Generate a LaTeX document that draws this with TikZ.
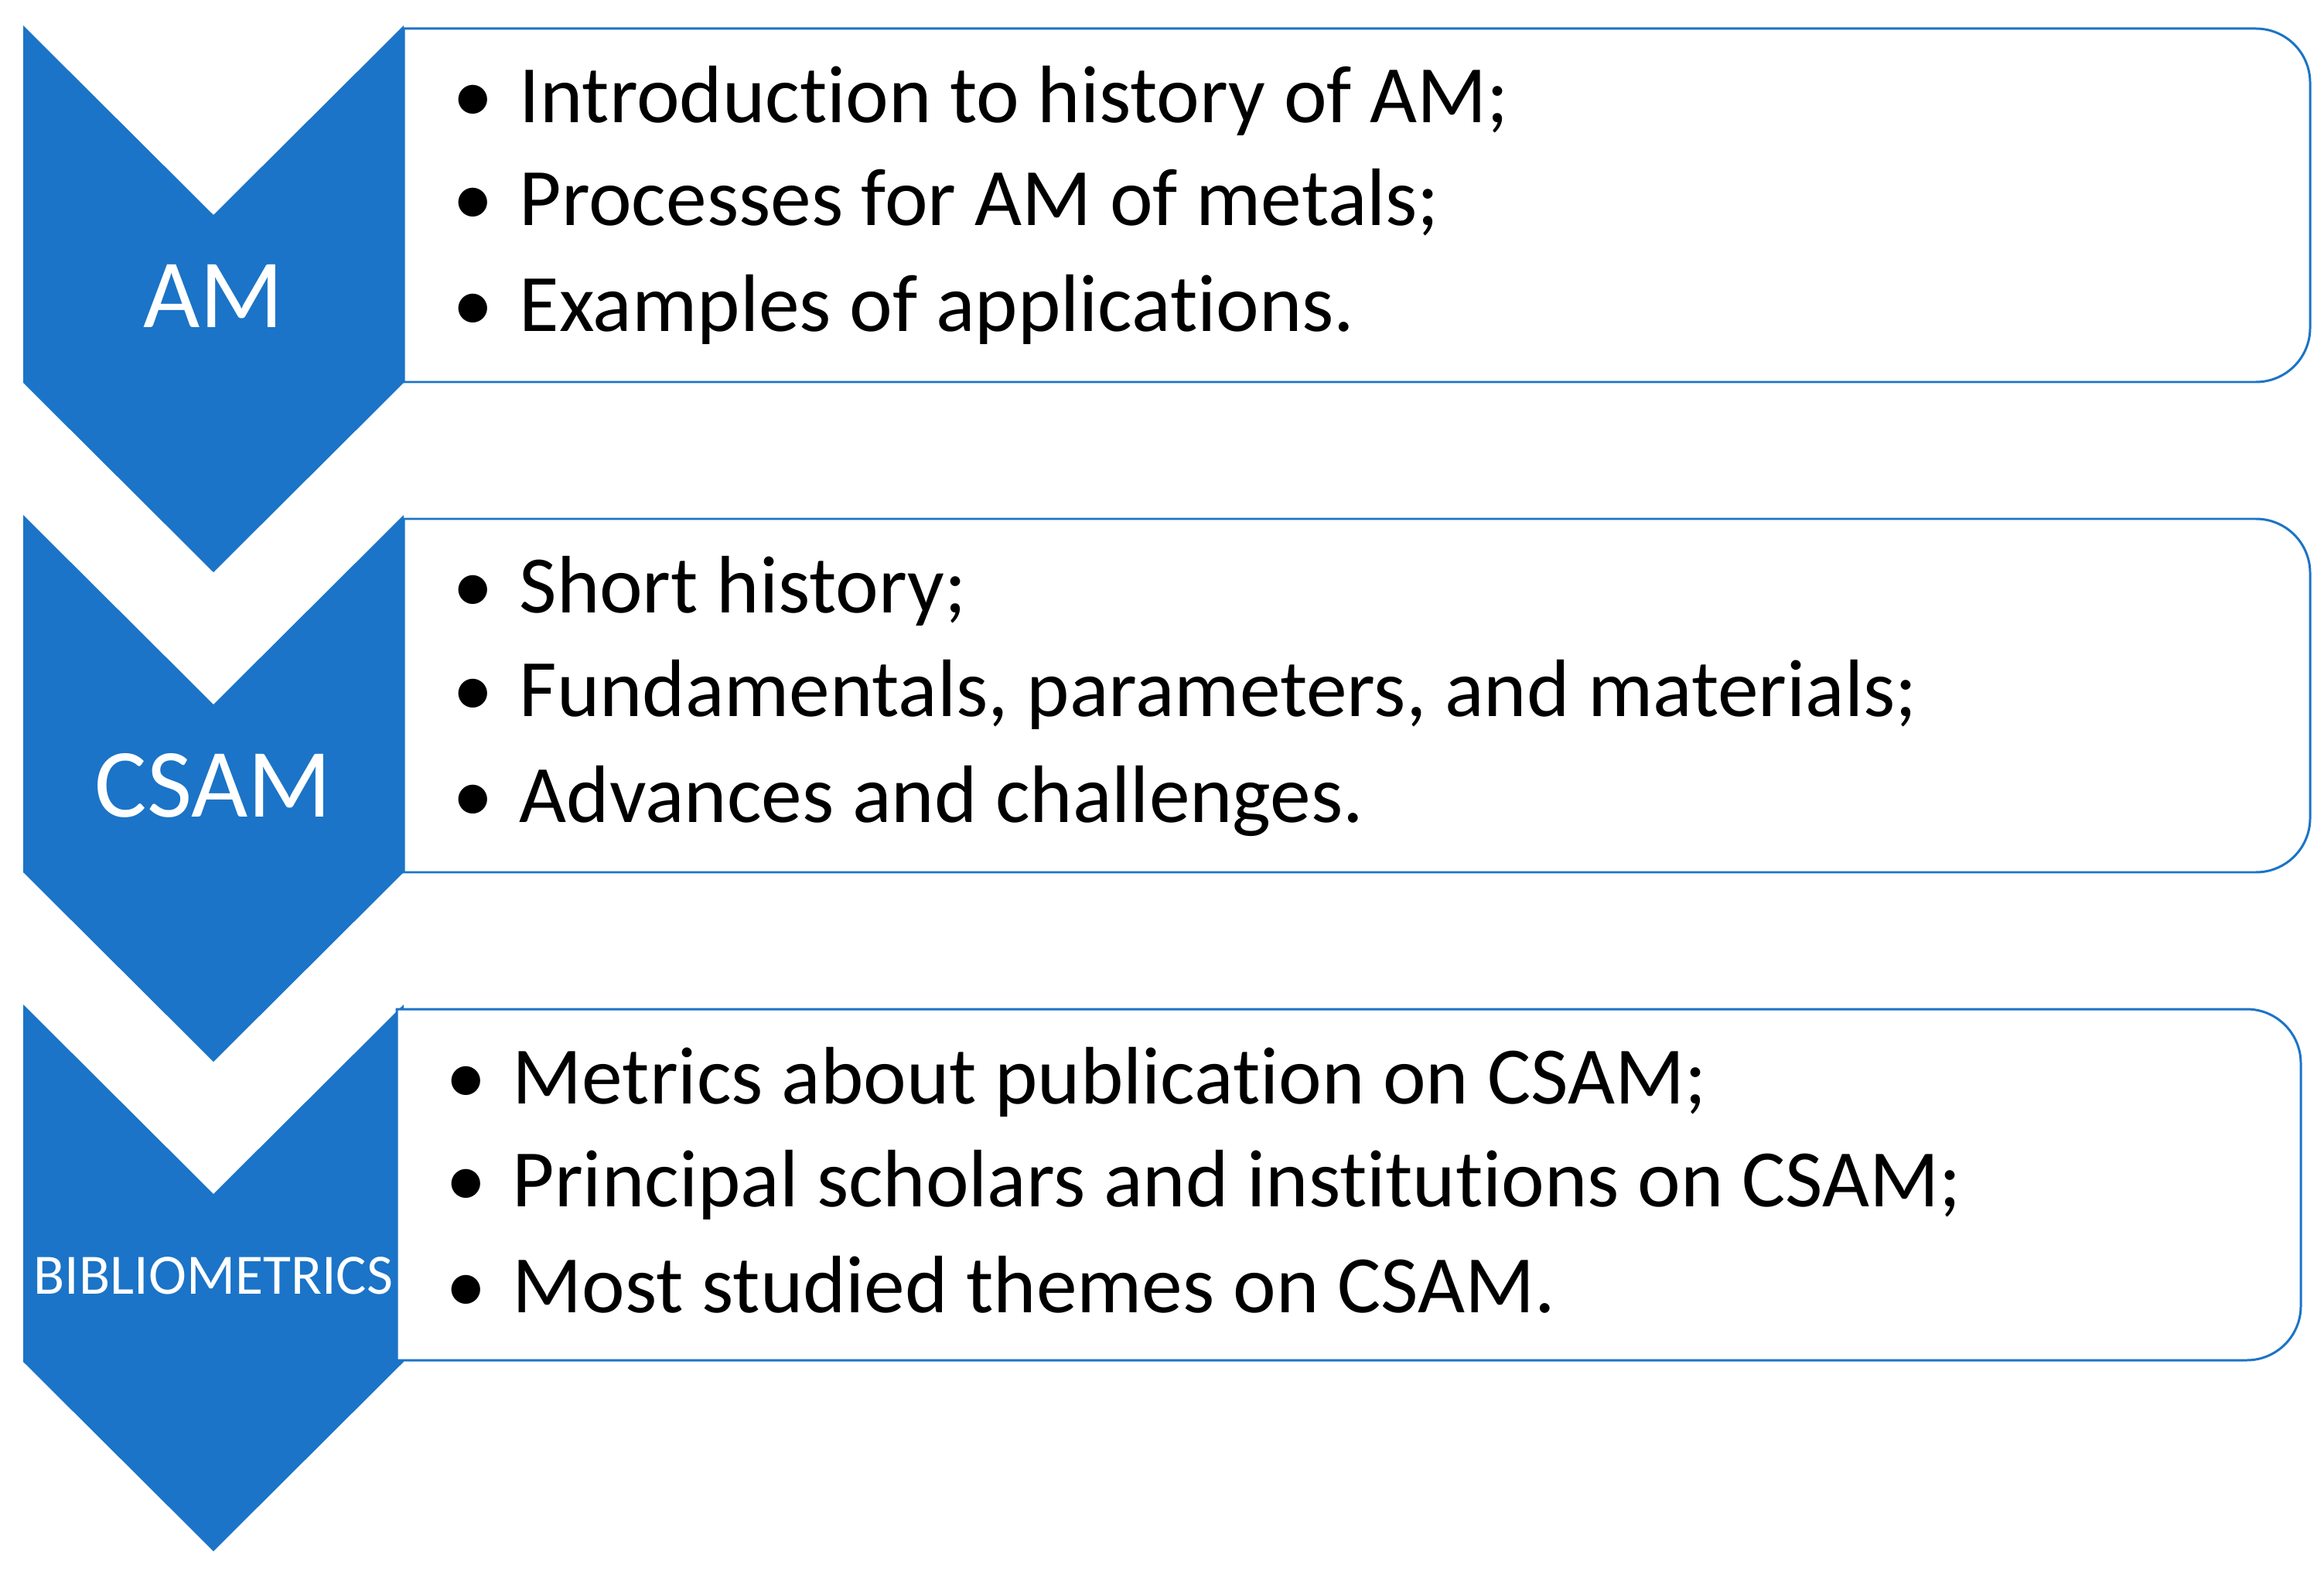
\documentclass[tikz,border=0pt]{standalone}
\usepackage{fontspec}
\setmainfont[Ligatures=NoCommon]{Carlito}
\usepackage{tikz}
\definecolor{chevblue}{RGB}{27,116,199}
\tikzset{chev/.style = {fill=chevblue, draw=none}}
\tikzset{panel/.style = {draw=chevblue, fill=white, line width=0.85pt}}
\tikzset{topic/.style = {text=white, inner sep=0, font=\fontsize{36}{36}\selectfont}}
\tikzset{topicsmall/.style = {text=white, inner sep=0, font=\fontsize{21}{21}\selectfont}}
\tikzset{item/.style = {anchor=base west, inner sep=0, font=\fontsize{30}{30}\selectfont}}
\newcommand{\itembullet}{\makebox[0.86cm][l]{\textbullet}}

\begin{document}
\begin{tikzpicture}
    \useasboundingbox (0, 0) rectangle (30.05, 20.28);

    % panels behind the first two chevrons
    \draw [panel] (5.22, 19.91) -- (29.17, 19.91) arc [start angle=90, end angle=0, radius=0.7]
      -- (29.87, 16.04) arc [start angle=0, end angle=-90, radius=0.7] -- (5.22, 15.34) -- cycle;
    \draw [panel] (5.22, 13.57) -- (29.17, 13.57) arc [start angle=90, end angle=0, radius=0.7]
      -- (29.87, 9.70) arc [start angle=0, end angle=-90, radius=0.7] -- (5.22, 9.00) -- cycle;

    \fill [chev] (0.30, 19.95) -- (2.76, 17.50) -- (5.22, 19.95) -- (5.22, 15.33) -- (2.76, 12.88) -- (0.30, 15.33) -- cycle;
    \fill [chev] (0.30, 13.62) -- (2.76, 11.17) -- (5.22, 13.62) -- (5.22, 9.00) -- (2.76, 6.55) -- (0.30, 9.00) -- cycle;
    \fill [chev] (0.30, 7.29) -- (2.76, 4.84) -- (5.22, 7.29) -- (5.22, 2.67) -- (2.76, 0.22) -- (0.30, 2.67) -- cycle;

    % third panel sits over its chevron
    \draw [panel] (5.13, 7.23) -- (29.05, 7.23) arc [start angle=90, end angle=0, radius=0.7]
      -- (29.75, 3.39) arc [start angle=0, end angle=-90, radius=0.7] -- (5.13, 2.69) -- cycle;

    \node [topic] (am) at (2.76, 16.45) {AM};
    \node [topic] (csam) at (2.76, 10.12) {CSAM};
    \node [topicsmall] (biblio) at (2.76, 3.78) {BIBLIOMETRICS};

    \node [item] (am1) at (5.85, 18.69) {\itembullet Introduction to history of AM;};
    \node [item] (am2) at (5.85, 17.36) {\itembullet Processes for AM of metals;};
    \node [item] (am3) at (5.85, 15.99) {\itembullet Examples of applications.};

    \node [item] (csam1) at (5.85, 12.35) {\itembullet Short history;};
    \node [item] (csam2) at (5.85, 11.02) {\itembullet Fundamentals, parameters, and materials;};
    \node [item] (csam3) at (5.85, 9.65) {\itembullet Advances and challenges.};

    \node [item] (bib1) at (5.76, 6.01) {\itembullet Metrics about publication on CSAM;};
    \node [item] (bib2) at (5.76, 4.68) {\itembullet Principal scholars and institutions on CSAM;};
    \node [item] (bib3) at (5.76, 3.31) {\itembullet Most studied themes on CSAM.};

  \end{tikzpicture}
\end{document}
